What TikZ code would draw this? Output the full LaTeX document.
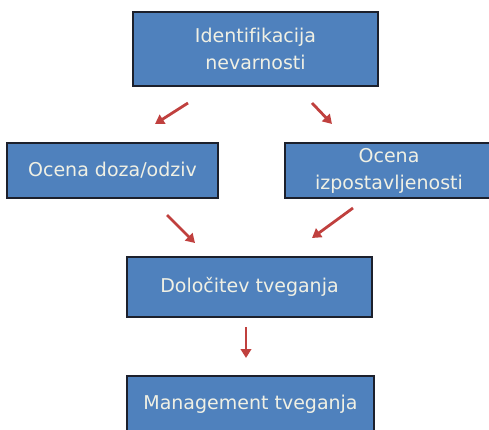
\documentclass[tikz,border=0pt]{standalone}
\usepackage{fontspec}
\setmainfont[Ligatures=NoCommon]{DejaVu Sans}
\usetikzlibrary{arrows.meta}
\definecolor{boxblue}{RGB}{79,129,189}
\definecolor{boxline}{RGB}{28,32,44}
\definecolor{arrred}{RGB}{192,64,62}
\definecolor{txtcream}{RGB}{240,240,228}
\begin{document}
\begin{tikzpicture}[
		x=1pt,y=-1pt,
		box/.style={rectangle,draw=boxline,line width=1.3pt,fill=boxblue,text=txtcream,
			font=\fontsize{19}{27}\selectfont,align=center,inner sep=0pt},
		arr/.style={draw=arrred,line width=2.8pt,-{Triangle[length=9pt,width=10.5pt]}}
		]
		\useasboundingbox (0,0) rectangle (489,430);
		\node[box,minimum width=245,minimum height=74] (iden) at (255.5,49) {Identifikacija\\nevarnosti};
		\node[box,minimum width=211,minimum height=55] (doza) at (112.5,170.5) {Ocena doza/odziv};
		\node[box,minimum width=208,minimum height=55] (izpo) at (389,170.5) {Ocena\\izpostavljenosti};
		\node[box,minimum width=245,minimum height=60] (dolo) at (249.5,287) {Določitev tveganja};
		\node[box,minimum width=247,minimum height=56] (mana) at (250.5,404) {Management tveganja};
		
		\coordinate (a1) at (188,103);
		\coordinate (b1) at (155,124);
		\coordinate (a2) at (312,103);
		\coordinate (b2) at (332,124);
		\coordinate (a3) at (167,215);
		\coordinate (b3) at (195,243);
		\coordinate (a4) at (353,208);
		\coordinate (b4) at (312,238);
		\coordinate (a5) at (246,327);
		\coordinate (b5) at (246,358);
		\draw[arr] (a1) -- (b1);
		\draw[arr] (a2) -- (b2);
		\draw[arr] (a3) -- (b3);
		\draw[arr] (a4) -- (b4);
		\draw[arr] (a5) -- (b5);
		\end{tikzpicture}
\end{document}
